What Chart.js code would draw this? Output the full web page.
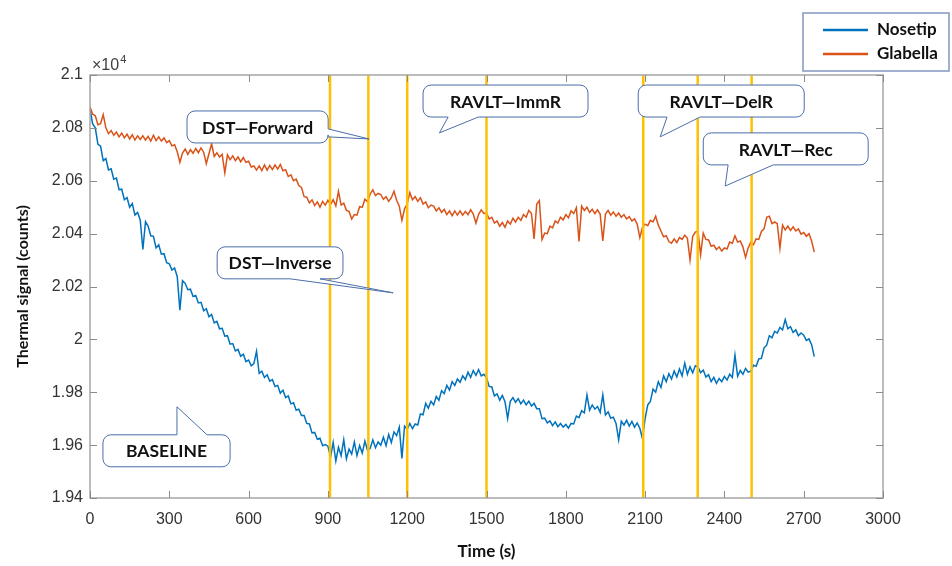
<!DOCTYPE html>
<html lang="en">
<head>
<meta charset="UTF-8">
<title>Thermal signal</title>
<script src="https://cdn.jsdelivr.net/npm/chart.js"></script>
<style>
  body { margin: 0; background: #fff; }
  canvas { display: block; }
</style>
</head>
<body>
<canvas id="myChart" width="952" height="566"></canvas>
<script>
// sampling interval of both traces (s)
const timeStep = 10;

// Nosetip trace, counts, one value every 10 s from 0 to 2740 s
const nosetip = [
  20872, 20815, 20800, 20738, 20731, 20676, 20684, 20641, 20645, 20606,
  20610, 20566, 20568, 20528, 20536, 20500, 20514, 20470, 20480, 20452,
  20340, 20445, 20428, 20392, 20390, 20346, 20358, 20322, 20324, 20290,
  20286, 20262, 20270, 20238, 20110, 20222, 20212, 20188, 20190, 20162,
  20166, 20138, 20140, 20108, 20116, 20086, 20094, 20062, 20068, 20040,
  20042, 20012, 20014, 19982, 19984, 19956, 19962, 19936, 19944, 19916,
  19922, 19900, 19908, 19955, 19872, 19880, 19856, 19866, 19842, 19848,
  19822, 19826, 19796, 19808, 19780, 19786, 19756, 19760, 19732, 19736,
  19712, 19712, 19682, 19680, 19646, 19648, 19622, 19626, 19598, 19602,
  19596, 19555, 19610, 19540, 19592, 19560, 19620, 19548, 19585, 19566,
  19612, 19560, 19598, 19570, 19615, 19580, 19588, 19620, 19590, 19612,
  19600, 19630, 19598, 19640, 19610, 19650, 19636, 19668, 19550, 19672,
  19660, 19682, 19662, 19680, 19676, 19718, 19715, 19758, 19740, 19766,
  19752, 19784, 19770, 19806, 19795, 19826, 19808, 19840, 19826, 19850,
  19838, 19862, 19848, 19876, 19856, 19882, 19864, 19886, 19862, 19868,
  19855, 19822, 19820, 19786, 19794, 19770, 19788, 19764, 19700, 19766,
  19780, 19762, 19776, 19756, 19770, 19752, 19766, 19748, 19758, 19738,
  19738, 19700, 19702, 19684, 19692, 19674, 19688, 19670, 19682, 19668,
  19678, 19664, 19682, 19680, 19710, 19704, 19730, 19722, 19790, 19732,
  19752, 19736, 19746, 19724, 19790, 19714, 19726, 19702, 19706, 19682,
  19620, 19690, 19676, 19694, 19672, 19690, 19668, 19684, 19664, 19625,
  19700, 19752, 19765, 19812, 19800, 19840, 19818, 19862, 19840, 19870,
  19850, 19880, 19858, 19888, 19862, 19910, 19868, 19896, 19874, 19900,
  19895, 19874, 19884, 19858, 19866, 19840, 19856, 19834, 19852, 19840,
  19860, 19846, 19868, 19856, 19940, 19860, 19882, 19868, 19890, 19876,
  19880, 19902, 19898, 19926, 19928, 19968, 19978, 20014, 20006, 20030,
  20024, 20045, 20036, 20075, 20040, 20048, 20026, 20036, 20014, 20024,
  20016, 19996, 20002, 19980, 19935
];

// Glabella trace, counts, same sampling
const glabella = [
  20880, 20852, 20846, 20812, 20816, 20850, 20800, 20778, 20790, 20772,
  20784, 20766, 20780, 20762, 20776, 20758, 20774, 20754, 20770, 20756,
  20770, 20754, 20768, 20750, 20772, 20752, 20766, 20750, 20762, 20744,
  20752, 20732, 20736, 20710, 20670, 20705, 20720, 20700, 20718, 20704,
  20722, 20706, 20724, 20708, 20665, 20702, 20740, 20692, 20706, 20690,
  20700, 20630, 20698, 20680, 20694, 20676, 20690, 20672, 20688, 20670,
  20674, 20652, 20656, 20640, 20656, 20638, 20660, 20640, 20658, 20642,
  20660, 20644, 20662, 20638, 20642, 20616, 20622, 20600, 20606, 20582,
  20575, 20540, 20538, 20516, 20528, 20506, 20520, 20500, 20522, 20508,
  20526, 20510, 20528, 20505, 20560, 20508, 20515, 20488, 20484, 20455,
  20472, 20470, 20502, 20500, 20530, 20520, 20550, 20566, 20544, 20552,
  20548, 20530, 20540, 20522, 20536, 20560, 20526, 20504, 20450, 20494,
  20512, 20555, 20528, 20540, 20522, 20536, 20512, 20520, 20498, 20508,
  20504, 20486, 20498, 20480, 20492, 20472, 20486, 20468, 20486, 20470,
  20486, 20470, 20484, 20472, 20490, 20474, 20440, 20472, 20490, 20476,
  20478, 20456, 20462, 20440, 20448, 20428, 20442, 20424, 20448, 20436,
  20458, 20444, 20462, 20450, 20472, 20462, 20488, 20476, 20380, 20512,
  20525, 20378, 20402, 20400, 20428, 20422, 20448, 20440, 20462, 20452,
  20472, 20460, 20486, 20476, 20498, 20370, 20504, 20488, 20500, 20480,
  20492, 20476, 20490, 20474, 20372, 20474, 20488, 20470, 20482, 20466,
  20478, 20462, 20472, 20456, 20464, 20448, 20456, 20436, 20385, 20424,
  20436, 20430, 20450, 20444, 20466, 20432, 20410, 20388, 20392, 20370,
  20364, 20380, 20366, 20386, 20378, 20394, 20382, 20300, 20390, 20406,
  20410, 20320, 20402, 20378, 20376, 20352, 20356, 20340, 20350, 20334,
  20346, 20342, 20368, 20364, 20392, 20368, 20372, 20350, 20310, 20346,
  20368, 20358, 20380, 20378, 20408, 20418, 20462, 20466, 20438, 20444,
  20438, 20345, 20432, 20414, 20428, 20412, 20426, 20410, 20418, 20398,
  20404, 20390, 20400, 20372, 20330
];

// task boundaries (s)
const eventTimes = [908, 1053, 1200, 1500, 2093, 2299, 2503];

const seriesNames = ['Nosetip', 'Glabella'];
const xRange = [0, 3000];
const yRange = [19400, 21000];

// speech-bubble labels, placed in data units (time, counts)
const callouts = [
    { text: 'DST\u2014Forward', t: [367, 901], v: [20864, 20743], side: 'right', base: [20796, 20766], tip: [1056, 20758] },
    { text: 'DST\u2014Inverse', t: [481, 957], v: [20350, 20229], side: 'bottom', base: [757, 870], tip: [1147, 20176] },
    { text: 'BASELINE', t: [49, 530], v: [19639, 19518], side: 'top', base: [329, 443], tip: [329, 19745] },
    { text: 'RAVLT\u2014ImmR', t: [1260, 1884], v: [20962, 20841], side: 'bottom', base: [1355, 1469], tip: [1322, 20781] },
    { text: 'RAVLT\u2014DelR', t: [2074, 2702], v: [20962, 20841], side: 'bottom', base: [2183, 2308], tip: [2157, 20766] },
    { text: 'RAVLT\u2014Rec', t: [2320, 2944], v: [20781, 20660], side: 'bottom', base: [2414, 2585], tip: [2403, 20580] },
];

const colors = ['#0072BD', '#D95319'];
const boldFont = 'Lato, "Open Sans", sans-serif';

function toPoints(values) {
    return values.map((v, i) => ({ x: i * timeStep, y: v }));
}

function bubblePath(ctx, x1, y1, x2, y2, r, side, a, b, tx, ty) {
    ctx.beginPath();
    ctx.moveTo(x1 + r, y1);
    if (side === 'top') { ctx.lineTo(a, y1); ctx.lineTo(tx, ty); ctx.lineTo(b, y1); }
    ctx.lineTo(x2 - r, y1);
    ctx.arcTo(x2, y1, x2, y1 + r, r);
    if (side === 'right') { ctx.lineTo(x2, a); ctx.lineTo(tx, ty); ctx.lineTo(x2, b); }
    ctx.lineTo(x2, y2 - r);
    ctx.arcTo(x2, y2, x2 - r, y2, r);
    if (side === 'bottom') { ctx.lineTo(b, y2); ctx.lineTo(tx, ty); ctx.lineTo(a, y2); }
    ctx.lineTo(x1 + r, y2);
    ctx.arcTo(x1, y2, x1, y2 - r, r);
    ctx.lineTo(x1, y1 + r);
    ctx.arcTo(x1, y1, x1 + r, y1, r);
    ctx.closePath();
}

const overlay = {
    id: 'overlay',
    afterDraw(chart) {
        const { ctx, chartArea: area, scales: { x, y } } = chart;
        ctx.save();

        // box round the axes
        ctx.strokeStyle = '#a6a6a6';
        ctx.lineWidth = 1.5;
        ctx.strokeRect(area.left, area.top, area.right - area.left, area.bottom - area.top);

        // inward tick marks on all four sides
        ctx.strokeStyle = '#8c8c8c';
        ctx.lineWidth = 1;
        ctx.beginPath();
        x.ticks.forEach(t => {
            const px = Math.round(x.getPixelForValue(t.value)) + 0.5;
            ctx.moveTo(px, area.bottom); ctx.lineTo(px, area.bottom - 7);
            ctx.moveTo(px, area.top); ctx.lineTo(px, area.top + 7);
        });
        y.ticks.forEach(t => {
            const py = Math.round(y.getPixelForValue(t.value)) + 0.5;
            ctx.moveTo(area.left, py); ctx.lineTo(area.left + 7, py);
            ctx.moveTo(area.right, py); ctx.lineTo(area.right - 7, py);
        });
        ctx.stroke();

        // exponent label
        ctx.fillStyle = '#404040';
        ctx.textBaseline = 'alphabetic';
        ctx.textAlign = 'left';
        ctx.font = '16px "Liberation Sans", Arial, sans-serif';
        ctx.fillText('\u00d710', area.left + 2, area.top - 5);
        const w = ctx.measureText('\u00d710').width;
        ctx.font = '11px "Liberation Sans", Arial, sans-serif';
        ctx.fillText('4', area.left + 3 + w, area.top - 12);

        // callouts
        callouts.forEach(c => {
            const x1 = x.getPixelForValue(c.t[0]), x2 = x.getPixelForValue(c.t[1]);
            const y1 = y.getPixelForValue(c.v[0]), y2 = y.getPixelForValue(c.v[1]);
            let a, b;
            if (c.side === 'right') {
                a = y.getPixelForValue(c.base[0]); b = y.getPixelForValue(c.base[1]);
            } else {
                a = x.getPixelForValue(c.base[0]); b = x.getPixelForValue(c.base[1]);
            }
            const tx = x.getPixelForValue(c.tip[0]), ty = y.getPixelForValue(c.tip[1]);
            bubblePath(ctx, x1, y1, x2, y2, 8, c.side, Math.min(a, b), Math.max(a, b), tx, ty);
            ctx.fillStyle = '#ffffff';
            ctx.fill();
            ctx.strokeStyle = '#4a6ea8';
            ctx.lineWidth = 1;
            ctx.stroke();
            ctx.fillStyle = '#111111';
            ctx.font = 'bold 17.5px ' + boldFont;
            ctx.textAlign = 'center';
            ctx.textBaseline = 'middle';
            ctx.fillText(c.text, (x1 + x2) / 2, (y1 + y2) / 2 + 1);
        });

        // legend
        const lx = 803, ly = 13, lw = 146, lh = 58;
        ctx.fillStyle = '#ffffff';
        ctx.fillRect(lx, ly, lw, lh);
        ctx.strokeStyle = '#8496c0';
        ctx.lineWidth = 1.5;
        ctx.strokeRect(lx, ly, lw, lh);
        seriesNames.forEach((name, i) => {
            const yy = ly + 17 + i * 24;
            ctx.strokeStyle = colors[i];
            ctx.lineWidth = 2.5;
            ctx.beginPath();
            ctx.moveTo(lx + 20, yy); ctx.lineTo(lx + 65, yy);
            ctx.stroke();
            ctx.fillStyle = '#111111';
            ctx.font = 'bold 17px ' + boldFont;
            ctx.textAlign = 'left';
            ctx.textBaseline = 'middle';
            ctx.fillText(name, lx + 74, yy);
        });

        ctx.restore();
    }
};

const eventSets = eventTimes.map(t => ({
    label: 'event',
    data: [{ x: t, y: yRange[0] }, { x: t, y: yRange[1] }],
    borderColor: '#FFC000',
    borderWidth: 2.5,
    pointRadius: 0,
    order: 0,
}));

const ctx = document.getElementById('myChart').getContext('2d');
const chart = new Chart(ctx, {
    type: 'line',
    data: {
        datasets: [
            {
                label: seriesNames[0],
                data: toPoints(nosetip),
                borderColor: colors[0],
                borderWidth: 1.5,
                pointRadius: 0,
                order: 2,
            },
            {
                label: seriesNames[1],
                data: toPoints(glabella),
                borderColor: colors[1],
                borderWidth: 1.5,
                pointRadius: 0,
                order: 1,
            },
            ...eventSets
        ],
    },
    options: {
        responsive: false,
        animation: false,
        devicePixelRatio: 1,
        layout: { padding: { top: 75, right: 69, left: 0, bottom: 0 } },
        plugins: {
            legend: { display: false },
            tooltip: { enabled: false },
        },
        scales: {
            x: {
                type: 'linear',
                min: xRange[0],
                max: xRange[1],
                afterFit: s => { s.height = 68; },
                grid: { display: false, drawTicks: false },
                border: { display: false },
                ticks: {
                    stepSize: 300,
                    padding: 12,
                    maxRotation: 0,
                    color: '#333333',
                    font: { family: '"Liberation Sans", Arial, sans-serif', size: 16 },
                    callback: v => String(v),
                },
                title: {
                    display: true,
                    text: 'Time (s)',
                    color: '#111111',
                    padding: { top: 0, bottom: 4 },
                    font: { family: boldFont, size: 17, weight: 'bold' },
                },
            },
            y: {
                min: yRange[0],
                max: yRange[1],
                afterFit: s => { s.width = 90; },
                grid: { display: false, drawTicks: false },
                border: { display: false },
                ticks: {
                    stepSize: 200,
                    padding: 7,
                    color: '#333333',
                    font: { family: '"Liberation Sans", Arial, sans-serif', size: 16 },
                    callback: v => String(Number((v / 10000).toFixed(2))),
                },
                title: {
                    display: true,
                    text: 'Thermal signal (counts)',
                    color: '#111111',
                    padding: { top: 13, bottom: 0 },
                    font: { family: boldFont, size: 16, weight: 'bold' },
                },
            },
        },
    },
    plugins: [overlay],
});
</script>
</body>
</html>
